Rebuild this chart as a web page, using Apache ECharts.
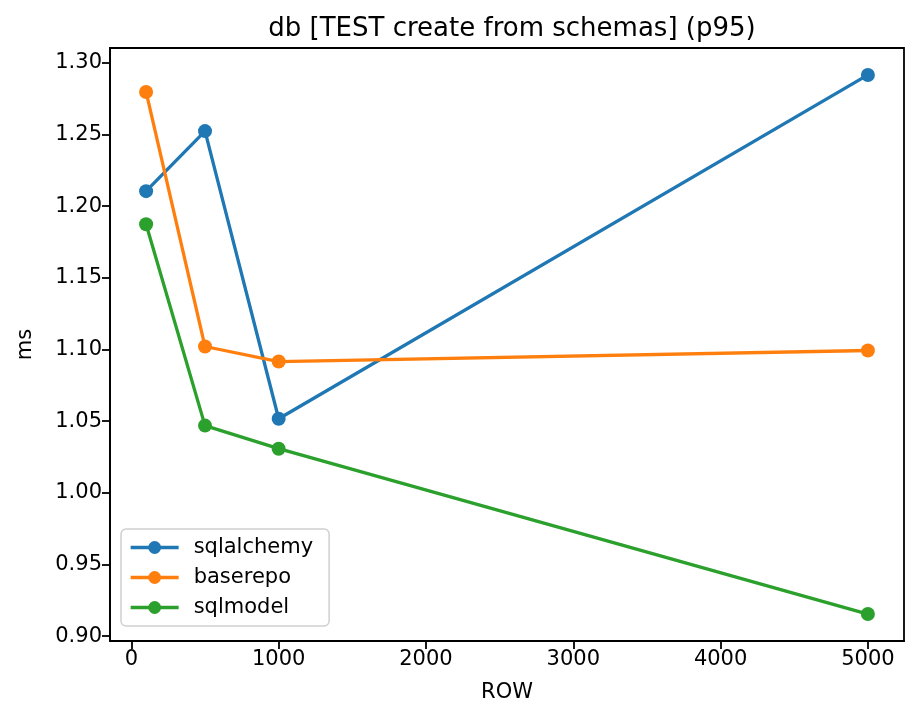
<!DOCTYPE html>
<html>
<head>
<meta charset="utf-8">
<script src="https://cdn.jsdelivr.net/npm/echarts@6/dist/echarts.min.js"></script>
<style>
html,body{margin:0;padding:0;background:#fff;}
#chart{width:919px;height:721px;}
</style>
</head>
<body>
<div id="chart"></div>
<script>
const rows = [100, 500, 1000, 5000];
const sqlalchemy = [1.2105, 1.2524, 1.0517, 1.2916];
const baserepo = [1.2797, 1.1021, 1.0916, 1.0993];
const sqlmodel = [1.1874, 1.0469, 1.0308, 0.9154];
const xTicks = [0, 1000, 2000, 3000, 4000, 5000];
const yTicks = [0.90, 0.95, 1.00, 1.05, 1.10, 1.15, 1.20, 1.25, 1.30];

const font = 'DejaVu Sans';
const chart = echarts.init(document.getElementById('chart'), null, {renderer: 'canvas'});
function mk(name, vals, color) {
  return {
    name: name, type: 'line', data: rows.map((r, i) => [r, vals[i]]),
    symbol: 'circle', symbolSize: 14, showSymbol: true,
    lineStyle: {width: 3.3, color: color}, itemStyle: {color: color},
    emphasis: {disabled: true}, animation: false
  };
}
chart.setOption({
  animation: false,
  title: {
    text: 'db [TEST create from schemas] (p95)', left: 507, top: 11, textAlign: 'center',
    textStyle: {fontFamily: font, fontSize: 26, fontWeight: 'normal', color: '#000'}
  },
  grid: {left: 110, right: 15, top: 48, bottom: 80, show: true, borderColor: '#000', borderWidth: 1.8, backgroundColor: '#fff'},
  legend: {
    orient: 'vertical', left: 121, top: 529, padding: [8, 16, 8, 8], itemGap: 9,
    itemWidth: 48, itemHeight: 16,
    lineStyle: {width: 3.3},
    borderColor: '#d0d0d0', borderWidth: 1.5, borderRadius: 5, backgroundColor: 'rgba(255,255,255,0.8)',
    textStyle: {fontFamily: font, fontSize: 21, color: '#000', padding: [0, 0, 0, 10]},
    data: ['sqlalchemy', 'baserepo', 'sqlmodel']
  },
  xAxis: {
    type: 'value', min: -145, max: 5245,
    name: 'ROW', nameLocation: 'middle', nameGap: 41,
    nameTextStyle: {fontFamily: font, fontSize: 21, color: '#000'},
    axisLine: {show: true, onZero: false, lineStyle: {color: '#000', width: 1.8}},
    axisTick: {show: true, length: 8, lineStyle: {color: '#000', width: 1.8}, customValues: xTicks},
    axisLabel: {fontFamily: font, fontSize: 21, color: '#000', margin: 8, customValues: xTicks,
      formatter: v => String(v)},
    splitLine: {show: false}
  },
  yAxis: {
    type: 'value', min: 0.8966, max: 1.3104,
    name: 'ms', nameLocation: 'middle', nameGap: 74,
    nameTextStyle: {fontFamily: font, fontSize: 21, color: '#000'},
    axisLine: {show: true, onZero: false, lineStyle: {color: '#000', width: 1.8}},
    axisTick: {show: true, length: 8, lineStyle: {color: '#000', width: 1.8}, customValues: yTicks},
    axisLabel: {fontFamily: font, fontSize: 21, color: '#000', margin: 8, customValues: yTicks,
      formatter: v => v.toFixed(2)},
    splitLine: {show: false}
  },
  series: [
    mk('sqlalchemy', sqlalchemy, '#1f77b4'),
    mk('baserepo', baserepo, '#ff7f0e'),
    mk('sqlmodel', sqlmodel, '#2ca02c')
  ]
});
</script>
</body>
</html>
